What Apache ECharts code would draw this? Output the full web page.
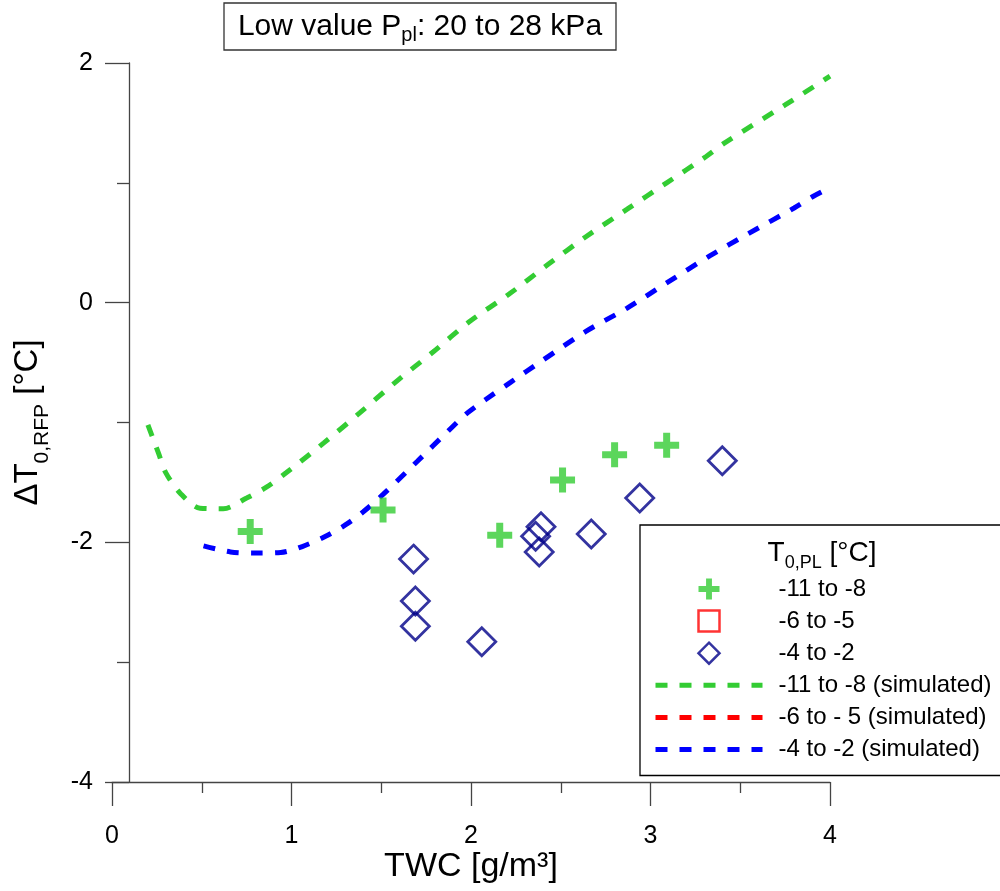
<!DOCTYPE html>
<html><head><meta charset="utf-8">
<script src="https://cdn.jsdelivr.net/npm/echarts@6/dist/echarts.min.js"></script>
<style>html,body{margin:0;padding:0;background:#fff}#c{width:1000px;height:891px}</style>
</head><body><div id="c"></div>
<script>
// ---------- data ----------
const seriesNames = ['-11 to -8', '-6 to -5', '-4 to -2',
  '-11 to -8 (simulated)', '-6 to - 5 (simulated)', '-4 to -2 (simulated)'];
// observed, T0,PL -11 to -8 (green crosses)
const coldObsX = [0.77, 1.51, 2.16, 2.51, 2.80, 3.09];
const coldObsY = [-1.91, -1.73, -1.94, -1.48, -1.27, -1.19];
// observed, T0,PL -6 to -5 (none in this pressure range)
const midObsX = [];
const midObsY = [];
// observed, T0,PL -4 to -2 (blue diamonds)
const warmObsX = [1.68, 1.69, 1.69, 2.06, 2.39, 2.36, 2.38, 2.67, 2.94, 3.40];
const warmObsY = [-2.14, -2.49, -2.70, -2.83, -1.87, -1.95, -2.08, -1.93, -1.63, -1.32];
// simulated curves
const coldSimX = [0.20, 0.26, 0.30, 0.38, 0.49, 0.62, 0.75, 0.86, 0.97, 1.18, 1.38, 1.59, 1.79, 1.99, 2.22, 2.43, 2.64, 2.87, 3.09, 3.31, 3.42, 3.75, 4.00];
const coldSimY = [-1.02, -1.26, -1.42, -1.59, -1.715, -1.72, -1.63, -1.54, -1.42, -1.17, -0.92, -0.65, -0.41, -0.16, 0.08, 0.32, 0.55, 0.78, 1.00, 1.22, 1.34, 1.65, 1.89];
const midSimX = [];
const midSimY = [];
const warmSimX = [0.51, 0.66, 0.80, 0.94, 1.06, 1.19, 1.30, 1.40, 1.51, 1.70, 1.88, 1.98, 2.08, 2.22, 2.40, 2.64, 2.87, 3.09, 3.33, 3.55, 3.80, 3.91, 4.00];
const warmSimY = [-2.03, -2.08, -2.09, -2.085, -2.035, -1.95, -1.855, -1.745, -1.60, -1.325, -1.06, -0.92, -0.81, -0.665, -0.48, -0.24, -0.045, 0.165, 0.39, 0.58, 0.79, 0.89, 0.96];
const xTickValues = [0, 1, 2, 3, 4];
const yTickValues = [-4, -2, 0, 2];

// ---------- styling ----------
const FONT = '"Liberation Sans", Arial, Helvetica, sans-serif';
const GREEN = '#33CC33', BLUE = '#0000FF', NAVY = '#000088', RED = '#FF0000';
const AX = '#444';
const CROSS = 'path://M9,0H16V9H25V16H16V25H9V16H0V9H9Z';
const SQUARE = 'path://M0,0H20V20H0Z';
const DIAMOND = 'path://M10,0L20,10L10,20L0,10Z';
const zip = (xs, ys) => xs.map((x, i) => [x, ys[i]]);

const chart = echarts.init(document.getElementById('c'), null, {renderer: 'canvas'});
const option = {
  animation: false,
  backgroundColor: '#fff',
  textStyle: {fontFamily: FONT},
  grid: {left: 112, right: 170, top: 63, bottom: 109, containLabel: false, outerBoundsMode: 'none'},
  xAxis: {
    type: 'value', min: xTickValues[0], max: xTickValues[xTickValues.length - 1], interval: 1,
    axisLine: {show: true, onZero: false, lineStyle: {color: AX, width: 1.3}},
    axisTick: {show: true, length: 24, lineStyle: {color: AX, width: 1.3}},
    minorTick: {show: true, splitNumber: 2, length: 11, lineStyle: {color: AX, width: 1.3}},
    splitLine: {show: false}, minorSplitLine: {show: false},
    axisLabel: {color: '#000', fontSize: 25, margin: 42, fontFamily: FONT},
    name: 'TWC [g/m³]', nameLocation: 'middle', nameGap: 68, nameMoveOverlap: false,
    nameTextStyle: {color: '#000', fontSize: 34, fontFamily: FONT}
  },
  yAxis: {
    type: 'value', min: yTickValues[0], max: yTickValues[yTickValues.length - 1], interval: 2,
    offset: -17,
    axisLine: {show: true, onZero: false, lineStyle: {color: AX, width: 1.3}},
    axisTick: {show: true, length: 24, lineStyle: {color: AX, width: 1.3}},
    minorTick: {show: true, splitNumber: 2, length: 12, lineStyle: {color: AX, width: 1.3}},
    splitLine: {show: false}, minorSplitLine: {show: false},
    axisLabel: {color: '#000', fontSize: 25, margin: 36, fontFamily: FONT},
    name: '{a|ΔT}{s|0,RFP}{a| [°C]}', nameLocation: 'middle', nameGap: 76, nameRotate: 90, nameMoveOverlap: false,
    nameTextStyle: {color: '#000', fontFamily: FONT, fontSize: 33,
      rich: {a: {fontSize: 33, lineHeight: 50, fontFamily: FONT, color: '#000'},
             s: {fontSize: 21, lineHeight: 21, verticalAlign: 'bottom', fontFamily: FONT, color: '#000'}}}
  },
  legend: {
    orient: 'vertical', left: 640, top: 525, padding: [52, 40, 14, 13],
    itemWidth: 107, itemHeight: 21, itemGap: 8.1,
    borderColor: '#000', borderWidth: 1.3, backgroundColor: '#fff',
    selectedMode: false, symbolKeepAspect: true,
    textStyle: {fontSize: 24, color: '#000', fontFamily: FONT, padding: [0, 0, 0, 11]},
    lineStyle: {width: 5},
    data: [
      {name: seriesNames[0]},
      {name: seriesNames[1], itemStyle: {borderWidth: 2.5}},
      {name: seriesNames[2], itemStyle: {borderWidth: 2.5}},
      {name: seriesNames[3], itemStyle: {opacity: 0}, lineStyle: {width: 5}},
      {name: seriesNames[4], itemStyle: {opacity: 0}, lineStyle: {width: 5}},
      {name: seriesNames[5], itemStyle: {opacity: 0}, lineStyle: {width: 5}}
    ]
  },
  graphic: [
    {type: 'rect', z: 100, shape: {x: 224, y: 3, width: 392, height: 47},
     style: {fill: '#fff', stroke: '#333', lineWidth: 1.3}},
    {type: 'text', z: 101, x: 420, y: 27,
     style: {text: '{a|Low value P}{s|pl}{a|: 20 to 28 kPa}', align: 'center', verticalAlign: 'middle',
       rich: {a: {fontSize: 30, lineHeight: 36, fontFamily: FONT, fill: '#000'},
              s: {fontSize: 20, lineHeight: 20, verticalAlign: 'bottom', fontFamily: FONT, fill: '#000'}}}},
    {type: 'text', z: 101, x: 822, y: 553,
     style: {text: '{a|T}{s|0,PL}{a| [°C]}', align: 'center', verticalAlign: 'middle',
       rich: {a: {fontSize: 28, lineHeight: 39, fontFamily: FONT, fill: '#000'},
              s: {fontSize: 18, lineHeight: 18, verticalAlign: 'bottom', fontFamily: FONT, fill: '#000'}}}}
  ],
  series: [
    {name: seriesNames[3], type: 'line', data: zip(coldSimX, coldSimY), symbol: 'none', smooth: 0.3, z: 2,
     lineStyle: {color: GREEN, width: 5, type: [12, 12], cap: 'butt'}, itemStyle: {color: GREEN}},
    {name: seriesNames[4], type: 'line', data: zip(midSimX, midSimY), symbol: 'none', smooth: 0.3, z: 2,
     lineStyle: {color: RED, width: 5, type: [12, 12], cap: 'butt'}, itemStyle: {color: RED}},
    {name: seriesNames[5], type: 'line', data: zip(warmSimX, warmSimY), symbol: 'none', smooth: 0.3, z: 2,
     lineStyle: {color: BLUE, width: 5, type: [12, 12], cap: 'butt'}, itemStyle: {color: BLUE}},
    {name: seriesNames[0], type: 'scatter', data: zip(coldObsX, coldObsY), symbol: CROSS, symbolSize: 25, z: 4,
     itemStyle: {color: GREEN}},
    {name: seriesNames[1], type: 'scatter', data: zip(midObsX, midObsY), symbol: SQUARE, symbolSize: 21, z: 4,
     itemStyle: {color: 'rgba(0,0,0,0)', borderColor: RED, borderWidth: 2.5}},
    {name: seriesNames[2], type: 'scatter', data: zip(warmObsX, warmObsY), symbol: DIAMOND, symbolSize: 28, z: 5,
     itemStyle: {color: 'rgba(0,0,0,0)', borderColor: NAVY, borderWidth: 2.8}}
  ]
};
chart.setOption(option);
</script></body></html>
